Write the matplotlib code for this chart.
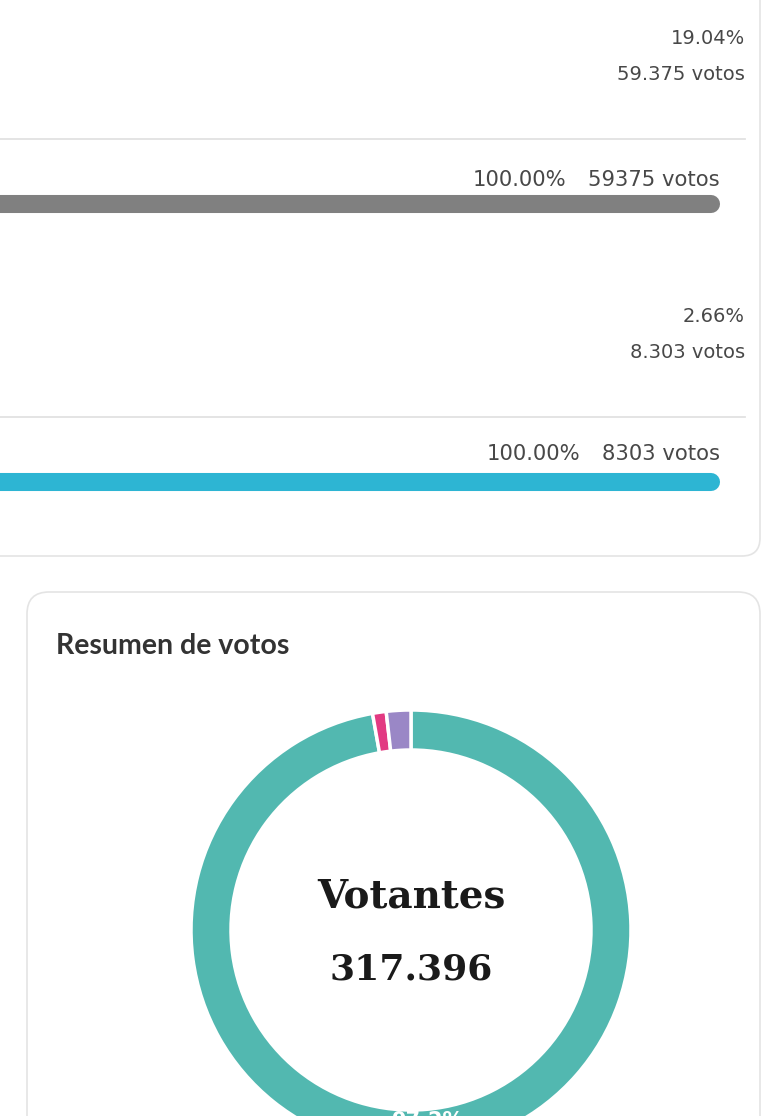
import matplotlib
matplotlib.use("Agg")
import matplotlib.pyplot as plt
from matplotlib.patches import FancyBboxPatch

# ---------------- data ----------------
party_pct = [19.04, 2.66]
party_votes = ["59.375", "8.303"]
list_pct = [100.00, 100.00]
list_votes = [59375, 8303]
bar_colors = ["#808080", "#2db5d3"]

summary_labels = ["Positivos", "En blanco", "Nulos"]
summary_share = [97.2, 1.0, 1.8]
summary_colors = ["#52b8b0", "#e23a82", "#9a87c6"]
votantes_label = "Votantes"
votantes_total = "317.396"
title = "Resumen de votos"

# ---------------- figure ----------------
W, H = 761, 1116
fig = plt.figure(figsize=(W / 100, H / 100), dpi=100)
fig.patch.set_facecolor("white")

bg = fig.add_axes([0, 0, 1, 1])
bg.set_xlim(0, W)
bg.set_ylim(H, 0)
bg.axis("off")

# cards
card1 = FancyBboxPatch((-60, -60), 820, 616, boxstyle="round,pad=0,rounding_size=18",
                       facecolor="white", edgecolor="#e4e4e4", linewidth=1.2, zorder=1)
card2 = FancyBboxPatch((27, 592), 733, 700, boxstyle="round,pad=0,rounding_size=22",
                       facecolor="white", edgecolor="#e4e4e4", linewidth=1.2, zorder=1)
bg.add_patch(card1)
bg.add_patch(card2)

txt_font = ["DejaVu Sans"]
txt_color = "#484848"

block_top = [38, 316]
sep_y = [139, 417]
sub_y = [180, 454]
bar_y = [204, 482]

fig.canvas.draw()
renderer = fig.canvas.get_renderer()

for i in range(2):
    bg.text(745, block_top[i], f"{party_pct[i]:.2f}%", ha="right", va="center",
            fontsize=14, color=txt_color, family=txt_font, zorder=3)
    bg.text(745, block_top[i] + 37, f"{party_votes[i]} votos", ha="right", va="center",
            fontsize=14, color=txt_color, family=txt_font, zorder=3)
    bg.plot([0, 745], [sep_y[i], sep_y[i]], color="#e2e2e2", lw=1.3, zorder=2)
    tv = bg.text(720, sub_y[i], f"{list_votes[i]} votos", ha="right",
                 va="center", fontsize=15.2, color=txt_color, family=txt_font, zorder=3)
    bb = tv.get_window_extent(renderer=renderer)
    left_px = bb.x0
    bg.text(left_px - 22, sub_y[i], f"{list_pct[i]:.2f}%", ha="right",
            va="center", fontsize=15.2, color=txt_color, family=txt_font, zorder=3)

# bars (percent scale), right end of round cap at x=720 px
end_px = 711
start_px = -300
bax = fig.add_axes([start_px / W, 0, (end_px - start_px) / W, 1])
bax.set_xlim(0, 100)
bax.set_ylim(H, 0)
bax.axis("off")
bax.patch.set_alpha(0)
for i in range(2):
    bax.plot([0, list_pct[i]], [bar_y[i], bar_y[i]], color=bar_colors[i], linewidth=13,
             solid_capstyle="round", zorder=3, clip_on=False)

# title of second card
bg.text(56, 646, title, ha="left", va="center", fontsize=20.5, fontweight="bold",
        color="#333333", family=["Lato", "DejaVu Sans"], zorder=3)

# donut
cx, cy, R = 411, 930, 220
pax = fig.add_axes([(cx - R) / W, (H - cy - R) / H, 2 * R / W, 2 * R / H])
pax.patch.set_alpha(0)


def fmt(p):
    return f"{p:.1f}%" if p > 50 else ""


wedges, texts, autotexts = pax.pie(
    summary_share, colors=summary_colors, startangle=90, counterclock=False,
    radius=1.0, wedgeprops=dict(width=40 / 220, edgecolor="white", linewidth=2.5),
    autopct=fmt, pctdistance=0.87,
    textprops=dict(color="white", fontsize=15, fontweight="bold", family=txt_font))
pax.set_xlim(-1, 1)
pax.set_ylim(-1, 1)
pax.set_aspect("equal")
pax.axis("off")

bg.text(cx, 897, votantes_label, ha="center", va="center", fontsize=28,
        fontweight="bold", color="#1a1a1a", family=["DejaVu Serif"], zorder=4)
bg.text(cx, 970, votantes_total, ha="center", va="center", fontsize=26,
        fontweight="bold", color="#1a1a1a", family=["DejaVu Serif"], zorder=4)

fig.savefig("out.png", dpi=100, facecolor=fig.get_facecolor())
